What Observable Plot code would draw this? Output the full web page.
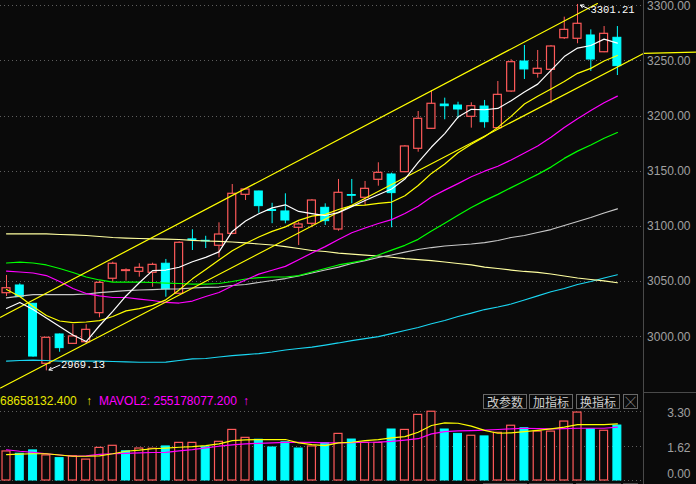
<!DOCTYPE html>
<html><head><meta charset="utf-8">
<script src="https://cdn.jsdelivr.net/npm/d3@7"></script>
<script src="https://cdn.jsdelivr.net/npm/@observablehq/plot@0.6"></script>
<style>
html,body{margin:0;padding:0;background:#0a0a0a;}
#root{position:relative;width:696px;height:484px;overflow:hidden;background:#0a0a0a;font-family:"Liberation Sans",Arial,sans-serif;}
#root svg{position:absolute;left:0;overflow:visible;}
.hd{position:absolute;top:394px;font:12px "Liberation Sans",Arial,sans-serif;line-height:14px;white-space:pre;}
.btn{position:absolute;top:394px;height:13px;border:1px solid #686868;color:#cfcfcf;font:12px "Noto Sans CJK SC",sans-serif;line-height:13px;text-align:center;box-sizing:content-box;}
.ln{position:absolute;background:#4a4a4a;}
</style></head><body><div id="root"></div>
<script>
// ---- data ----
const openP  = [3039.5,3046.5,3029.9,2975.5,3002.1,2993.6,2995.1,3021.4,3052.6,3059.6,3058.9,3058.0,3066.2,3039.0,3088.3,3087.0,3082.5,3093.3,3128.7,3131.7,3115.0,3113.6,3098.8,3102.4,3116.9,3097.2,3128.5,3126.0,3142.3,3147.1,3149.2,3170.4,3188.5,3210.5,3209.6,3199.4,3208.7,3189.1,3222.3,3249.5,3238.4,3242.0,3270.6,3270.1,3273.1,3257.9,3271.0];
const highP  = [3055.6,3048.0,3030.2,2999.5,3002.5,3011.1,3010.9,3050.4,3067.6,3061.6,3066.2,3066.7,3070.1,3086.0,3097.0,3091.1,3103.3,3138.0,3134.6,3132.0,3121.0,3129.6,3103.9,3124.4,3120.5,3142.6,3142.6,3140.8,3157.7,3148.3,3173.4,3204.2,3223.2,3216.3,3212.6,3212.1,3214.2,3231.4,3251.1,3264.0,3259.5,3264.0,3289.7,3301.21,3278.2,3281.2,3281.2];
const lowP   = [3036.5,3035.9,2981.5,2969.13,2986.0,2993.0,2993.6,3017.2,3049.5,3050.4,3054.0,3044.9,3035.9,3038.5,3078.2,3080.0,3071.6,3092.5,3123.5,3112.0,3102.5,3102.4,3082.7,3098.8,3100.9,3095.7,3120.5,3119.0,3136.5,3098.8,3148.8,3167.3,3188.0,3196.7,3197.6,3189.1,3189.1,3188.5,3221.5,3233.2,3234.4,3211.2,3269.5,3265.6,3240.5,3257.5,3236.8];
const closeP = [3044.0,3035.9,2982.1,2999.1,2989.7,3000.3,3006.3,3048.9,3066.2,3060.3,3062.5,3065.2,3042.9,3085.2,3087.6,3086.5,3092.7,3129.6,3133.5,3118.4,3114.0,3105.4,3101.8,3123.5,3104.8,3130.5,3127.8,3134.1,3148.6,3130.2,3172.5,3197.6,3211.2,3209.0,3206.0,3209.0,3194.5,3219.3,3248.9,3242.3,3242.9,3263.1,3278.2,3283.7,3251.3,3274.6,3245.3];

const ma5   = [3025.6,3031.1,3024.7,3017.0,3009.3,3001.6,2995.7,3010.0,3023.0,3037.0,3049.0,3060.0,3060.5,3063.0,3068.0,3072.0,3077.0,3095.5,3105.0,3111.5,3116.8,3119.6,3113.6,3111.7,3109.9,3112.5,3118.0,3123.5,3128.7,3134.0,3143.0,3158.0,3172.0,3184.2,3199.2,3206.2,3205.8,3207.0,3214.0,3221.8,3229.0,3241.5,3254.0,3261.7,3264.0,3269.8,3266.2];
const ma10  = [3042.8,3036.5,3027.4,3019.3,3014.3,3012.9,3013.4,3014.7,3018.4,3023.5,3025.5,3028.5,3033.5,3042.5,3052.5,3061.0,3069.5,3078.0,3084.5,3090.5,3095.5,3099.6,3105.5,3109.3,3111.0,3115.4,3118.9,3119.4,3120.9,3122.1,3127.9,3137.1,3148.1,3156.6,3166.8,3174.6,3181.3,3189.8,3199.8,3211.0,3218.1,3224.6,3231.3,3238.8,3243.3,3249.9,3255.0];
const ma20  = [3059.6,3058.7,3057.8,3055.5,3050.1,3043.8,3039.2,3037.0,3035.6,3035.6,3034.2,3032.9,3031.1,3030.6,3032.4,3036.5,3040.1,3046.0,3051.5,3056.8,3060.3,3063.8,3069.8,3076.0,3081.7,3088.2,3094.3,3098.6,3102.7,3106.2,3111.7,3118.3,3126.7,3132.9,3138.8,3145.0,3150.1,3154.6,3160.3,3166.5,3173.0,3180.9,3189.7,3197.7,3205.0,3212.2,3218.1];
const ma30  = [3066.9,3067.6,3066.9,3065.1,3061.9,3058.3,3054.2,3051.5,3049.6,3049.5,3049.5,3049.2,3048.7,3048.3,3047.8,3047.8,3048.3,3050.1,3052.4,3053.7,3054.2,3054.2,3055.5,3058.7,3061.9,3065.1,3067.3,3069.6,3074.1,3078.6,3082.9,3088.3,3095.9,3102.9,3110.1,3117.1,3123.4,3129.1,3135.2,3141.2,3147.2,3153.8,3161.7,3168.3,3173.8,3180.0,3185.1];
const ma60  = [3035.3,3036.9,3038.3,3038.3,3038.3,3038.3,3038.8,3040.1,3041.0,3041.9,3042.4,3042.8,3043.3,3043.5,3044.2,3044.7,3045.1,3046.5,3047.4,3049.2,3051.0,3052.8,3055.1,3057.8,3060.5,3063.2,3066.4,3069.1,3071.9,3074.1,3076.8,3079.1,3080.9,3082.3,3083.2,3084.1,3085.4,3087.3,3090.0,3091.8,3094.5,3097.2,3100.9,3104.5,3108.1,3112.2,3116.0];
const ma120 = [3093.3,3093.3,3093.3,3093.3,3092.7,3092.3,3091.8,3090.9,3090.0,3089.5,3089.1,3088.8,3088.6,3088.2,3087.3,3086.8,3086.4,3085.9,3085.2,3084.1,3083.2,3081.8,3080.0,3078.2,3077.3,3075.9,3075.0,3074.1,3073.2,3072.1,3070.9,3070.0,3069.1,3067.8,3066.4,3065.1,3063.2,3061.9,3060.5,3059.2,3058.3,3056.9,3055.1,3053.3,3051.9,3050.6,3049.0];
const ma250 = [2978.0,2978.5,2978.9,2978.5,2978.0,2977.9,2977.9,2977.9,2977.6,2977.3,2976.9,2976.9,2977.1,2978.5,2979.9,2980.3,2981.7,2983.0,2983.9,2984.8,2986.2,2988.0,2989.4,2990.7,2992.5,2994.4,2996.6,2998.4,3000.2,3002.9,3005.7,3008.4,3011.8,3014.8,3018.4,3021.4,3024.7,3027.0,3029.7,3033.3,3037.1,3040.8,3043.8,3047.4,3050.1,3053.3,3056.2];

// volume in 1e8
const volume = [1.39,1.28,1.44,1.20,1.07,1.16,1.00,1.56,1.66,1.40,1.53,1.52,1.63,1.80,1.80,1.59,1.85,2.42,2.04,1.95,1.58,1.83,1.53,1.63,1.79,2.23,1.96,1.80,1.80,2.44,2.42,3.14,3.29,2.44,2.23,2.14,2.11,2.28,2.62,2.50,2.34,2.34,2.82,3.25,2.45,2.38,2.63];
const volDir = ["u","d","d","u","d","u","u","u","u","d","u","u","d","u","u","d","u","u","u","d","d","d","d","u","d","u","d","u","u","d","u","u","u","d","d","u","d","u","u","d","u","u","u","u","d","u","d"];
const mavol1 = [1.24,1.26,1.28,1.28,1.22,1.16,1.16,1.18,1.28,1.40,1.45,1.52,1.55,1.59,1.62,1.67,1.75,1.91,1.94,1.96,1.96,1.96,1.80,1.72,1.67,1.80,1.83,1.91,1.96,2.04,2.10,2.31,2.63,2.76,2.74,2.60,2.40,2.26,2.28,2.34,2.40,2.47,2.55,2.67,2.67,2.67,2.71];
const mavol2 = [1.47,1.40,1.35,1.28,1.22,1.16,1.18,1.25,1.28,1.30,1.32,1.34,1.35,1.42,1.48,1.56,1.64,1.70,1.75,1.78,1.80,1.82,1.83,1.82,1.80,1.80,1.81,1.83,1.84,1.87,1.93,2.00,2.23,2.34,2.37,2.39,2.41,2.44,2.47,2.50,2.48,2.47,2.48,2.50,2.50,2.50,2.55];

const priceTicks = [3000,3050,3100,3150,3200,3250,3300];
const volTicks = [0,1.62,3.30];
const volTickLabels = ["0.00","1.62","3.30"];

// hand-drawn channel lines (index, price)
const channelUpper = [[-0.452,3017.7],[44.5,3302.0]];
const channelLower = [[-0.452,2953.6],[47.967,3256.8],[51.96,3258.0]];

// extreme annotations
const highNote = {i:43, price:3301.21, label:"3301.21"};
const lowNote  = {i:3,  price:2969.13, label:"2969.13"};

const headerVol1 = "68658132.400";
const headerVol2 = "MAVOL2: 255178077.200";
const buttons = ["改参数","加指标","换指标"];

// ---- drawing ----
const RED = "#ff5a5a", CYAN = "#00ffff", BG = "#0a0a0a";
const xDomain = [-0.452, 47.967];
const candles = closeP.map((c,i)=>({i, o:openP[i], h:highP[i], l:lowP[i], c, up: c>=openP[i]}));
const upC = candles.filter(d=>d.up), dnC = candles.filter(d=>!d.up);
const series = a => a.map((v,i)=>[i,v]);
const vols = volume.map((v,i)=>({i, v, up: volDir[i]==="u"}));
const hw = 0.3;

const root = document.getElementById("root");

const price = Plot.plot({
  width:696, height:391, marginLeft:0, marginRight:53, marginTop:0, marginBottom:0,
  x:{domain:xDomain, axis:null},
  y:{domain:[2950.41,3304.80], axis:null},
  style:{background:"transparent", overflow:"visible", fontFamily:"Liberation Sans, Arial, sans-serif"},
  marks:[
    Plot.ruleY(priceTicks,{stroke:"#5e5e5e", strokeDasharray:"1,3", shapeRendering:"crispEdges"}),
    Plot.text(priceTicks,{y:d=>d, text:d=>d.toFixed(2), frameAnchor:"right", dx:47, textAnchor:"end", fill:"#a0a0a0", fontSize:12}),
    Plot.ruleX(upC,{x:"i", y1:"l", y2:"h", stroke:RED}),
    Plot.ruleX(dnC,{x:"i", y1:"l", y2:"h", stroke:CYAN}),
    Plot.rect(upC,{x1:d=>d.i-hw, x2:d=>d.i+hw, y1:"o", y2:"c", fill:BG, stroke:RED, strokeWidth:1.2, inset:0}),
    Plot.rect(dnC,{x1:d=>d.i-hw, x2:d=>d.i+hw, y1:"o", y2:"c", fill:CYAN, stroke:CYAN, inset:0}),
    Plot.line(series(ma250),{stroke:"#1ad6f2", strokeWidth:1.2}),
    Plot.line(series(ma120),{stroke:"#ffffa0", strokeWidth:1.2}),
    Plot.line(series(ma60),{stroke:"#c8c8c8", strokeWidth:1.2}),
    Plot.line(series(ma30),{stroke:"#00ff00", strokeWidth:1.2}),
    Plot.line(series(ma20),{stroke:"#ff00ff", strokeWidth:1.2}),
    Plot.line(channelUpper,{stroke:"#ffff00", strokeWidth:1.2}),
    Plot.line(channelLower,{stroke:"#ffff00", strokeWidth:1.2}),
    Plot.line(series(ma10),{stroke:"#ffff00", strokeWidth:1.2}),
    Plot.line(series(ma5),{stroke:"#ffffff", strokeWidth:1.2}),
    Plot.arrow([highNote],{x1:d=>d.i+0.9, y1:d=>d.price-4.3, x2:d=>d.i+0.22, y2:d=>d.price-0.6, stroke:"#ffffff", headLength:5, strokeWidth:1}),
    Plot.text([highNote],{x:d=>d.i+0.9, y:d=>d.price-4.3, text:"label", textAnchor:"start", dx:1, fill:"#ffffff", fontSize:10.5, fontFamily:"Liberation Mono, monospace"}),
    Plot.arrow([lowNote],{x1:d=>d.i+1.02, y1:d=>d.price+5.2, x2:d=>d.i+0.2, y2:d=>d.price+0.8, stroke:"#ffffff", headLength:5, strokeWidth:1}),
    Plot.text([lowNote],{x:d=>d.i+1.02, y:d=>d.price+5.2, text:"label", textAnchor:"start", dx:1, fill:"#ffffff", fontSize:10.5, fontFamily:"Liberation Mono, monospace"})
  ]
});
price.style.top = "0px";
root.appendChild(price);

const vol = Plot.plot({
  width:696, height:93, marginLeft:0, marginRight:53, marginTop:0, marginBottom:4,
  x:{domain:xDomain, axis:null},
  y:{domain:[0,4.258], axis:null},
  style:{background:"transparent", overflow:"visible", fontFamily:"Liberation Sans, Arial, sans-serif"},
  marks:[
    Plot.ruleY(volTicks,{y:d=>d, stroke:"#5e5e5e", strokeDasharray:"1,3", shapeRendering:"crispEdges"}),
    Plot.text(volTicks,{y:d=>d, text:(d,i)=>volTickLabels[i], frameAnchor:"right", dx:47, dy:1.5, textAnchor:"end", fill:"#a0a0a0", fontSize:12, filter:d=>d>0}),
    Plot.text(volTicks,{y:d=>d, text:(d,i)=>volTickLabels[i], frameAnchor:"right", dx:47, dy:-6, textAnchor:"end", fill:"#a0a0a0", fontSize:12, filter:d=>d===0}),
    Plot.rect(vols.filter(d=>d.up),{x1:d=>d.i-hw, x2:d=>d.i+hw, y1:0, y2:"v", fill:BG, stroke:RED, strokeWidth:1.2, inset:0}),
    Plot.rect(vols.filter(d=>!d.up),{x1:d=>d.i-hw, x2:d=>d.i+hw, y1:0, y2:"v", fill:CYAN, stroke:CYAN, inset:0}),
    Plot.line(series(mavol2),{stroke:"#ff00ff", strokeWidth:1.2}),
    Plot.line(series(mavol1),{stroke:"#ffff00", strokeWidth:1.2})
  ]
});
vol.style.top = "391px";
root.appendChild(vol);

// header
function addDiv(cls, text, css){ const d=document.createElement("div"); d.className=cls; d.textContent=text; Object.assign(d.style, css); root.appendChild(d); return d; }
addDiv("hd", headerVol1, {left:"0px", color:"#e8e800"});
addDiv("hd", "↑", {left:"86px", color:"#e8e800"});
addDiv("hd", headerVol2, {left:"99px", color:"#ff00ff"});
addDiv("hd", "↑", {left:"243px", color:"#ff00ff"});
// buttons
const btnLeft = [483,529,576];
buttons.forEach((b,k)=>addDiv("btn", b, {left:btnLeft[k]+"px", width:"42px"}));
addDiv("btn", "╳", {left:"623px", width:"13px", fontSize:"10px"});
[[483,44],[529,44],[576,45],[623,15]].forEach(([l,w])=>addDiv("ln","",{left:l+"px", top:"483px", width:w+"px", height:"1px"}));
// axis line and separator
addDiv("ln","",{left:"643px", top:"0px", width:"1px", height:"484px"});
addDiv("ln","",{left:"643px", top:"392px", width:"53px", height:"1px"});
</script></body></html>
